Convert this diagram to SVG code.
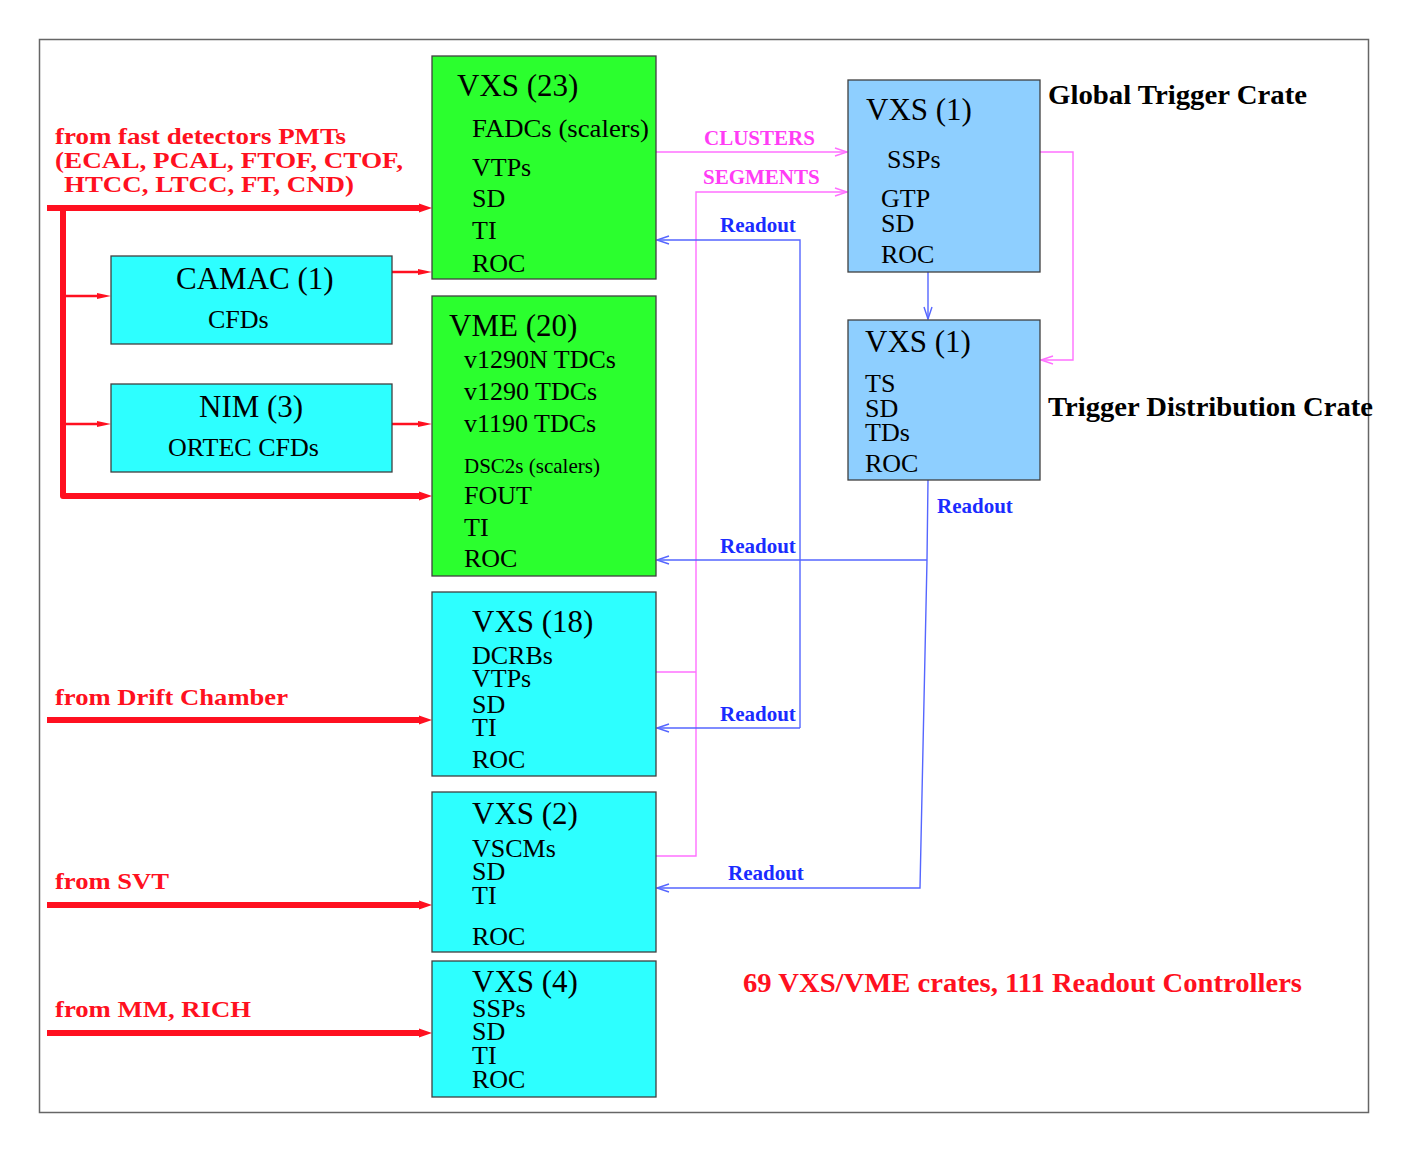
<svg xmlns="http://www.w3.org/2000/svg" width="1410" height="1150" viewBox="0 0 1410 1150">
<style>
.box{stroke:#404040;stroke-width:1.3}
.g{fill:#2bff2e}
.c{fill:#2dffff}
.b{fill:#8ecfff}
.hd{font-family:"Liberation Serif",serif;font-size:31px;fill:#000}
.it{font-family:"Liberation Serif",serif;font-size:26px;fill:#000}
.sm{font-family:"Liberation Serif",serif;font-size:21px;fill:#000}
.red{font-family:"Liberation Serif",serif;font-weight:bold;font-size:23px;fill:#ff1020}
.big{font-family:"Liberation Serif",serif;font-weight:bold;font-size:28px}
.mag{font-family:"Liberation Serif",serif;font-weight:bold;font-size:21px;fill:#ff3cf5}
.blu{font-family:"Liberation Serif",serif;font-weight:bold;font-size:21px;fill:#1a2cff}
.thick{stroke:#ff1020;stroke-width:6;fill:none;stroke-linejoin:round}
.thin{stroke:#ff1020;stroke-width:2.5;fill:none}
.ml{stroke:#ff70ff;stroke-width:1.4;fill:none}
.bl{stroke:#5566ff;stroke-width:1.4;fill:none}
</style>
<defs>
<marker id="ath" markerUnits="userSpaceOnUse" markerWidth="14" markerHeight="12" refX="0" refY="6" orient="auto" overflow="visible"><path d="M0,1.5 L13,6 L0,10.5 z" fill="#ff1020"/></marker>
<marker id="atn" markerUnits="userSpaceOnUse" markerWidth="16" markerHeight="10" refX="0" refY="5" orient="auto" overflow="visible"><path d="M0,2 L14,5 L0,8 z" fill="#ff1020"/></marker>
<marker id="am" markerUnits="userSpaceOnUse" markerWidth="14" markerHeight="10" refX="12" refY="4" orient="auto" overflow="visible"><path d="M0,0 L12,4 L0,8" fill="none" stroke="#ff70ff" stroke-width="1.4"/></marker>
<marker id="ab" markerUnits="userSpaceOnUse" markerWidth="14" markerHeight="10" refX="12" refY="4" orient="auto" overflow="visible"><path d="M0,0 L12,4 L0,8" fill="none" stroke="#5566ff" stroke-width="1.4"/></marker>
</defs>
<rect x="0" y="0" width="1410" height="1150" fill="#fff"/>
<rect x="39.5" y="39.5" width="1329" height="1073" fill="#fff" stroke="#666" stroke-width="1.5"/>

<g id="connectors">
<path class="thick" d="M47,208 L419,208" marker-end="url(#ath)"/>
<path class="thick" d="M63,208 L63,496 L419,496" marker-end="url(#ath)"/>
<path class="thin" d="M63,296 L97,296" marker-end="url(#atn)"/>
<path class="thin" d="M63,424 L97,424" marker-end="url(#atn)"/>
<path class="thin" d="M392,272 L418,272" marker-end="url(#atn)"/>
<path class="thin" d="M392,424 L418,424" marker-end="url(#atn)"/>
<path class="thick" d="M47,720 L419,720" marker-end="url(#ath)"/>
<path class="thick" d="M47,905 L419,905" marker-end="url(#ath)"/>
<path class="thick" d="M47,1033 L419,1033" marker-end="url(#ath)"/>
<path class="ml" d="M656,152 L847,152" marker-end="url(#am)"/>
<path class="ml" d="M1040,152 L1073,152 L1073,360 L1041,360" marker-end="url(#am)"/>
<path class="ml" d="M656,856 L696,856 L696,192 L847,192" marker-end="url(#am)"/>
<path class="ml" d="M656,672 L696,672"/>
<path class="bl" d="M928,272 L928,319" marker-end="url(#ab)"/>
<path class="bl" d="M800,728 L800,240 L657,240" marker-end="url(#ab)"/>
<path class="bl" d="M800,728 L657,728" marker-end="url(#ab)"/>
<path class="bl" d="M928,480 L927,560 L920,888 L657,888" marker-end="url(#ab)"/>
<path class="bl" d="M927,560 L657,560" marker-end="url(#ab)"/>
<text class="mag" x="704" y="145">CLUSTERS</text>
<text class="mag" x="703" y="184">SEGMENTS</text>
<text class="blu" x="720" y="232">Readout</text>
<text class="blu" x="720" y="553">Readout</text>
<text class="blu" x="720" y="721">Readout</text>
<text class="blu" x="728" y="880">Readout</text>
<text class="blu" x="937" y="513">Readout</text>
</g>

<g id="labels">
<text class="red" x="55" y="144" textLength="291" lengthAdjust="spacingAndGlyphs">from fast detectors PMTs</text>
<text class="red" x="55" y="168" textLength="348" lengthAdjust="spacingAndGlyphs">(ECAL, PCAL, FTOF, CTOF,</text>
<text class="red" x="64" y="192" textLength="290" lengthAdjust="spacingAndGlyphs">HTCC, LTCC, FT, CND)</text>
<text class="red" x="55" y="705" textLength="233" lengthAdjust="spacingAndGlyphs">from Drift Chamber</text>
<text class="red" x="55" y="889" textLength="114" lengthAdjust="spacingAndGlyphs">from SVT</text>
<text class="red" x="55" y="1017" textLength="196" lengthAdjust="spacingAndGlyphs">from MM, RICH</text>
<text class="big" x="743" y="992" fill="#ff1020" textLength="559" lengthAdjust="spacingAndGlyphs">69 VXS/VME crates, 111 Readout Controllers</text>
<text class="big" x="1048" y="104" fill="#000" textLength="259" lengthAdjust="spacingAndGlyphs">Global Trigger Crate</text>
<text class="big" x="1048" y="416" fill="#000" textLength="325" lengthAdjust="spacingAndGlyphs">Trigger Distribution Crate</text>
</g>

<g id="vxs23">
<rect class="box g" x="432" y="56" width="224" height="223"/>
<text class="hd" x="457" y="96">VXS (23)</text>
<text class="it" x="472" y="137" textLength="177" lengthAdjust="spacingAndGlyphs">FADCs (scalers)</text>
<text class="it" x="472" y="176">VTPs</text>
<text class="it" x="472" y="207">SD</text>
<text class="it" x="472" y="239">TI</text>
<text class="it" x="472" y="272">ROC</text>
</g>

<g id="camac">
<rect class="box c" x="111" y="256" width="281" height="88"/>
<text class="hd" x="176" y="289">CAMAC (1)</text>
<text class="it" x="208" y="328">CFDs</text>
</g>

<g id="nim">
<rect class="box c" x="111" y="384" width="281" height="88"/>
<text class="hd" x="199" y="417">NIM (3)</text>
<text class="it" x="168" y="456">ORTEC CFDs</text>
</g>

<g id="vme20">
<rect class="box g" x="432" y="296" width="224" height="280"/>
<text class="hd" x="449" y="336">VME (20)</text>
<text class="it" x="464" y="368">v1290N TDCs</text>
<text class="it" x="464" y="400">v1290 TDCs</text>
<text class="it" x="464" y="432">v1190 TDCs</text>
<text class="sm" x="464" y="473">DSC2s (scalers)</text>
<text class="it" x="464" y="504">FOUT</text>
<text class="it" x="464" y="536">TI</text>
<text class="it" x="464" y="567">ROC</text>
</g>

<g id="vxs18">
<rect class="box c" x="432" y="592" width="224" height="184"/>
<text class="hd" x="472" y="632">VXS (18)</text>
<text class="it" x="472" y="664">DCRBs</text>
<text class="it" x="472" y="687">VTPs</text>
<text class="it" x="472" y="713">SD</text>
<text class="it" x="472" y="736">TI</text>
<text class="it" x="472" y="768">ROC</text>
</g>

<g id="vxs2">
<rect class="box c" x="432" y="792" width="224" height="160"/>
<text class="hd" x="472" y="824">VXS (2)</text>
<text class="it" x="472" y="857">VSCMs</text>
<text class="it" x="472" y="880">SD</text>
<text class="it" x="472" y="904">TI</text>
<text class="it" x="472" y="945">ROC</text>
</g>

<g id="vxs4">
<rect class="box c" x="432" y="961" width="224" height="136"/>
<text class="hd" x="472" y="992">VXS (4)</text>
<text class="it" x="472" y="1017">SSPs</text>
<text class="it" x="472" y="1040">SD</text>
<text class="it" x="472" y="1064">TI</text>
<text class="it" x="472" y="1088">ROC</text>
</g>

<g id="gtc">
<rect class="box b" x="848" y="80" width="192" height="192"/>
<text class="hd" x="866" y="120">VXS (1)</text>
<text class="it" x="887" y="168">SSPs</text>
<text class="it" x="881" y="207">GTP</text>
<text class="it" x="881" y="232">SD</text>
<text class="it" x="881" y="263">ROC</text>
</g>

<g id="tdc">
<rect class="box b" x="848" y="320" width="192" height="160"/>
<text class="hd" x="865" y="352">VXS (1)</text>
<text class="it" x="865" y="392">TS</text>
<text class="it" x="865" y="417">SD</text>
<text class="it" x="865" y="441">TDs</text>
<text class="it" x="865" y="472">ROC</text>
</g>
</svg>
